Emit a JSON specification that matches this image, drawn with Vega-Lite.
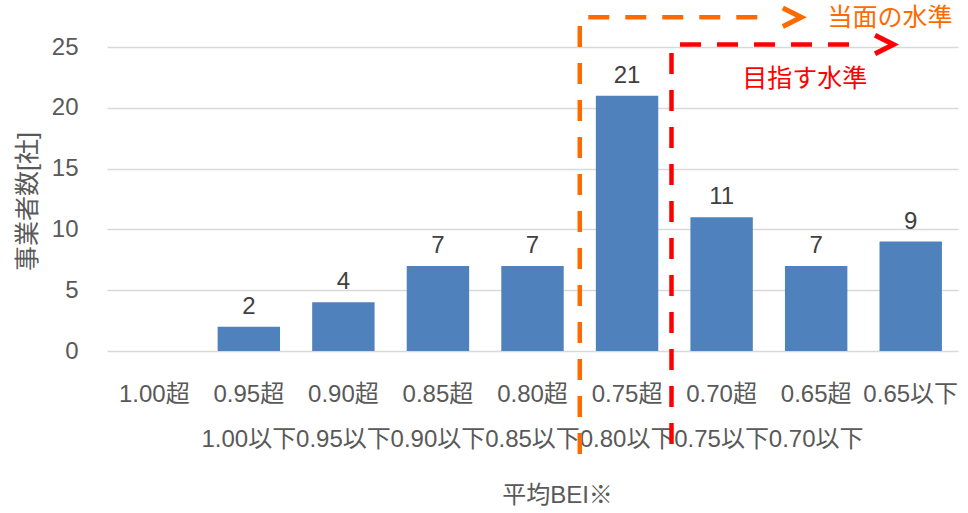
{
  "$schema": "https://vega.github.io/schema/vega-lite/v6.json",
  "width": 851,
  "height": 304,
  "autosize": {"type": "none"},
  "padding": {"left": 107, "top": 47, "right": 10, "bottom": 162},
  "background": "white",
  "config": {
    "view": {"stroke": null},
    "font": "Liberation Sans, Arial, Noto Sans CJK JP, sans-serif"
  },
  "datasets": {
    "bars": [
      {"bei": "1.00超", "count": null},
      {"bei": "0.95超 1.00以下", "count": 2},
      {"bei": "0.90超 0.95以下", "count": 4},
      {"bei": "0.85超 0.90以下", "count": 7},
      {"bei": "0.80超 0.85以下", "count": 7},
      {"bei": "0.75超 0.80以下", "count": 21},
      {"bei": "0.70超 0.75以下", "count": 11},
      {"bei": "0.65超 0.70以下", "count": 7},
      {"bei": "0.65以下", "count": 9}
    ],
    "segments": [
      {"level": "当面", "x": 4.5, "x2": 4.5, "y": 26.73, "y2": -9.38},
      {"level": "当面", "x": 4.59, "x2": 6.46, "y": 27.45, "y2": 27.45},
      {"level": "目指す", "x": 5.47, "x2": 5.47, "y": 24.5, "y2": -8.55},
      {"level": "目指す", "x": 5.56, "x2": 7.46, "y": 25.2, "y2": 25.2}
    ],
    "arrows": [
      {"level": "当面", "x": 6.745, "y": 27.45},
      {"level": "目指す", "x": 7.72, "y": 25.2}
    ],
    "notes": [
      {"level": "当面", "label": "当面の水準", "x": 7.78, "y": 27.4},
      {"level": "目指す", "label": "目指す水準", "x": 6.88, "y": 22.4}
    ]
  },
  "layer": [
    {
      "data": {"name": "bars"},
      "encoding": {
        "x": {
          "field": "bei",
          "type": "nominal",
          "sort": null,
          "scale": {
            "domain": ["1.00超", "0.95超 1.00以下", "0.90超 0.95以下", "0.85超 0.90以下", "0.80超 0.85以下", "0.75超 0.80以下", "0.70超 0.75以下", "0.65超 0.70以下", "0.65以下"],
            "paddingInner": 0.34,
            "paddingOuter": 0.17
          },
          "axis": {
            "title": "平均BEI※",
            "labelExpr": "split(datum.value, ' ')",
            "labelAngle": 0,
            "labelFontSize": 24,
            "labelColor": "#595959",
            "labelLineHeight": 45,
            "labelBaseline": "top",
            "labelPadding": 31,
            "labelOverlap": false,
            "labelBound": false,
            "labelFlush": false,
            "ticks": false,
            "domain": false,
            "grid": false,
            "titleFontSize": 24,
            "titleFontWeight": "normal",
            "titleColor": "#595959",
            "titleX": 450,
            "titleY": 144,
            "titleBaseline": "middle",
            "titleAlign": "center"
          }
        },
        "y": {
          "field": "count",
          "type": "quantitative",
          "scale": {"domain": [0, 25], "nice": false},
          "axis": {
            "title": "事業者数[社]",
            "values": [0, 5, 10, 15, 20, 25],
            "labelFontSize": 24,
            "labelColor": "#595959",
            "labelPadding": 29,
            "ticks": false,
            "domain": false,
            "grid": true,
            "gridColor": "#D9D9D9",
            "gridWidth": 1.3,
            "titleFontSize": 25,
            "titleFontWeight": "normal",
            "titleColor": "#595959",
            "titleX": -80,
            "titleY": 154,
            "titleBaseline": "middle",
            "titleAlign": "center"
          }
        }
      },
      "layer": [
        {"mark": {"type": "bar", "color": "#4F81BD"}},
        {
          "mark": {"type": "text", "fontSize": 24, "color": "#404040", "baseline": "alphabetic", "dy": -13},
          "encoding": {"text": {"field": "count", "type": "quantitative"}}
        }
      ]
    },
    {
      "layer": [
        {
          "data": {"name": "segments"},
          "mark": {"type": "rule", "strokeWidth": 4.5, "strokeDash": [21, 16], "strokeCap": "butt"},
          "encoding": {
            "x": {"field": "x", "type": "quantitative", "scale": {"domain": [-0.5, 8.5], "nice": false, "zero": false}, "axis": null},
            "x2": {"field": "x2"},
            "y": {"field": "y", "type": "quantitative", "scale": {"domain": [0, 25], "nice": false}, "axis": null},
            "y2": {"field": "y2"},
            "color": {"field": "level", "type": "nominal", "scale": {"domain": ["当面", "目指す"], "range": ["#FF6A00", "#FF0000"]}, "legend": null}
          }
        },
        {
          "data": {"name": "arrows"},
          "mark": {"type": "point", "shape": "M-1,-1L1,0L-1,1", "filled": false, "size": 340, "strokeWidth": 5, "opacity": 1},
          "encoding": {
            "x": {"field": "x", "type": "quantitative", "scale": {"domain": [-0.5, 8.5], "nice": false, "zero": false}, "axis": null},
            "y": {"field": "y", "type": "quantitative", "scale": {"domain": [0, 25], "nice": false}, "axis": null},
            "color": {"field": "level", "type": "nominal", "scale": {"domain": ["当面", "目指す"], "range": ["#FF6A00", "#FF0000"]}, "legend": null}
          }
        },
        {
          "data": {"name": "notes"},
          "mark": {"type": "text", "fontSize": 25, "align": "center", "baseline": "middle"},
          "encoding": {
            "x": {"field": "x", "type": "quantitative", "scale": {"domain": [-0.5, 8.5], "nice": false, "zero": false}, "axis": null},
            "y": {"field": "y", "type": "quantitative", "scale": {"domain": [0, 25], "nice": false}, "axis": null},
            "text": {"field": "label", "type": "nominal"},
            "color": {"field": "level", "type": "nominal", "scale": {"domain": ["当面", "目指す"], "range": ["#FF6A00", "#FF0000"]}, "legend": null}
          }
        }
      ]
    }
  ],
  "resolve": {
    "scale": {"x": "independent", "y": "independent", "color": "independent"},
    "axis": {"x": "independent", "y": "independent"}
  }
}
